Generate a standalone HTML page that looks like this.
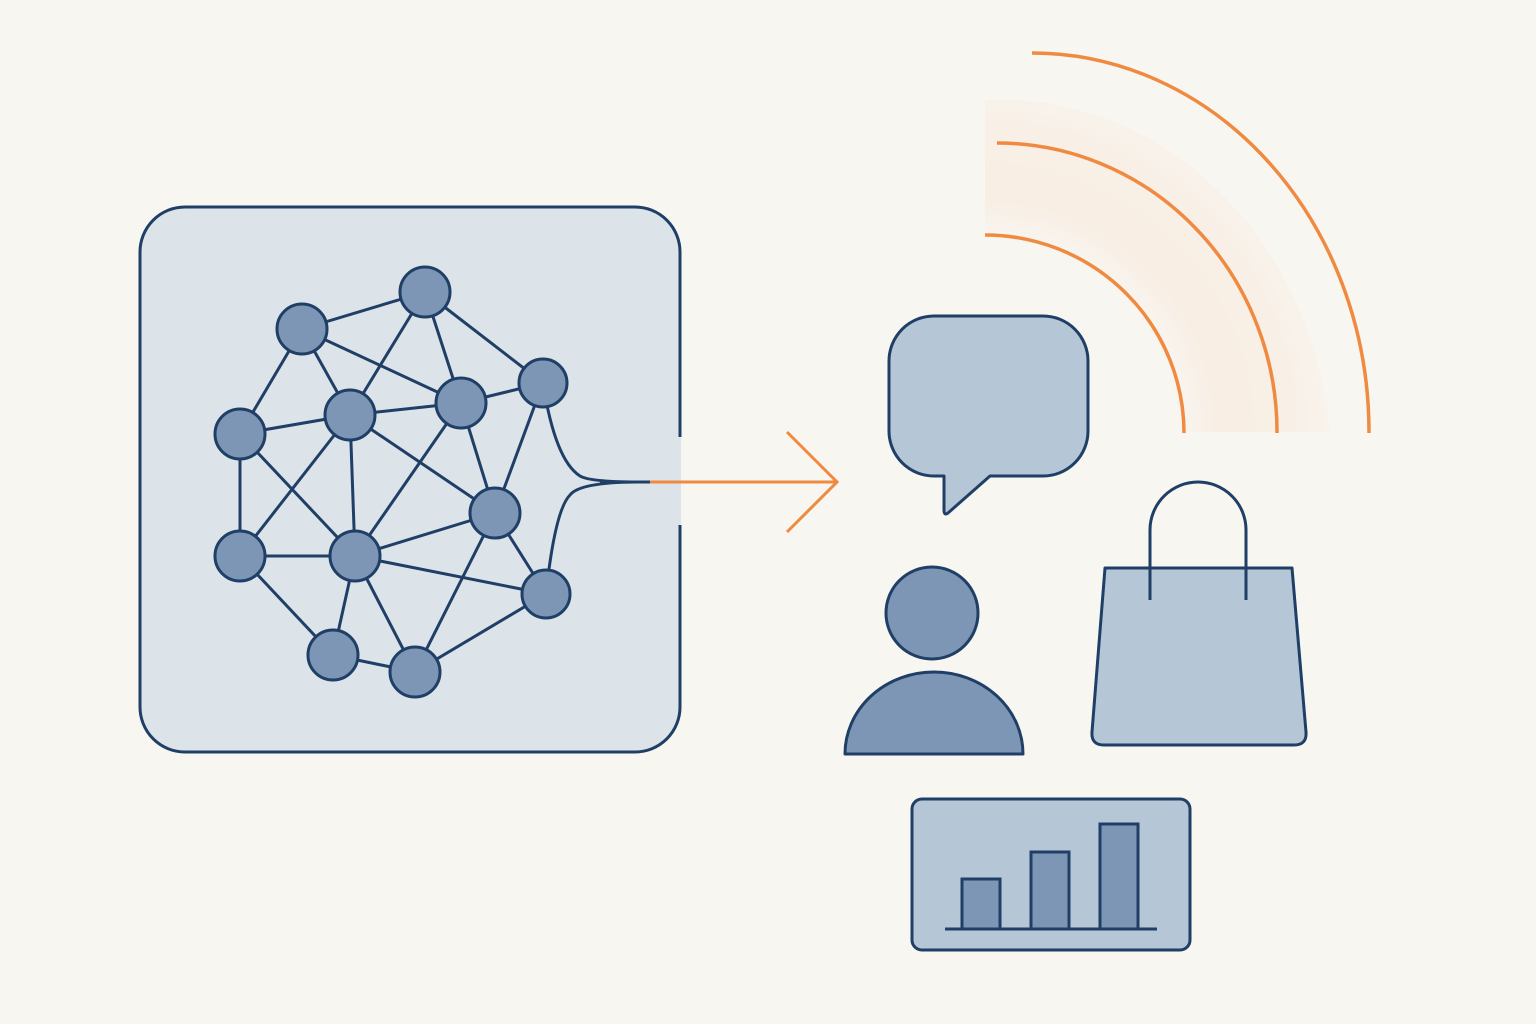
<!DOCTYPE html>
<html><head><meta charset="utf-8"><style>html,body{margin:0;padding:0;background:#f8f6f1;}svg{display:block}</style></head>
<body>
<svg width="1536" height="1024" viewBox="0 0 1536 1024" xmlns="http://www.w3.org/2000/svg">
<defs>
<radialGradient id="glow" cx="985" cy="432" r="380" gradientUnits="userSpaceOnUse">
<stop offset="0.5" stop-color="#f6b98a" stop-opacity="0"/>
<stop offset="0.62" stop-color="#f6b98a" stop-opacity="0.14"/>
<stop offset="0.8" stop-color="#f6b98a" stop-opacity="0.1"/>
<stop offset="1" stop-color="#f6b98a" stop-opacity="0"/>
</radialGradient>
</defs>
<rect width="1536" height="1024" fill="#f8f6f1"/>
<path d="M985,432 L985,100 A330,370 0 0 1 1330,432 Z" fill="url(#glow)"/>
<!-- main box -->
<path d="M680,437 L680,252 A45,45 0 0 0 635,207 L185,207 A45,45 0 0 0 140,252 L140,707 A45,45 0 0 0 185,752 L635,752 A45,45 0 0 0 680,707 L680,525" fill="#dce3e9" stroke="#1f3f66" stroke-width="3"/>
<rect x="650" y="438" width="31" height="86" fill="#dce3e9"/>
<g stroke="#1f3f66" stroke-width="3" fill="none">
<line x1="302" y1="329" x2="425" y2="292"/><line x1="302" y1="329" x2="240" y2="434"/><line x1="302" y1="329" x2="350" y2="415"/><line x1="302" y1="329" x2="461" y2="403"/>
<line x1="425" y1="292" x2="350" y2="415"/><line x1="425" y1="292" x2="461" y2="403"/><line x1="425" y1="292" x2="543" y2="383"/>
<line x1="543" y1="383" x2="495" y2="513"/><line x1="543" y1="383" x2="461" y2="403"/>
<line x1="240" y1="434" x2="350" y2="415"/><line x1="240" y1="434" x2="240" y2="556"/><line x1="240" y1="434" x2="355" y2="556"/>
<line x1="350" y1="415" x2="461" y2="403"/><line x1="350" y1="415" x2="355" y2="556"/><line x1="350" y1="415" x2="495" y2="513"/><line x1="350" y1="415" x2="240" y2="556"/>
<line x1="461" y1="403" x2="495" y2="513"/><line x1="461" y1="403" x2="355" y2="556"/>
<line x1="495" y1="513" x2="355" y2="556"/><line x1="495" y1="513" x2="546" y2="594"/><line x1="495" y1="513" x2="415" y2="672"/>
<line x1="240" y1="556" x2="355" y2="556"/><line x1="240" y1="556" x2="333" y2="655"/>
<line x1="355" y1="556" x2="333" y2="655"/><line x1="355" y1="556" x2="415" y2="672"/><line x1="355" y1="556" x2="546" y2="594"/>
<line x1="333" y1="655" x2="415" y2="672"/><line x1="415" y1="672" x2="546" y2="594"/>
<path d="M543,383 Q555,460 580,476 Q590,482 640,482"/>
<path d="M546,594 Q555,510 570,495 Q580,482 640,482"/>
</g>
<line x1="600" y1="482" x2="680" y2="482" stroke="#1f3f66" stroke-width="3"/>
<line x1="650" y1="482" x2="836" y2="482" stroke="#f08a40" stroke-width="3"/>
<polyline points="787,432 837,482 787,532" fill="none" stroke="#f08a40" stroke-width="3"/>
<g fill="#7d96b6" stroke="#1f3f66" stroke-width="3">
<circle cx="302" cy="329" r="25"/><circle cx="425" cy="292" r="25"/><circle cx="543" cy="383" r="24"/>
<circle cx="240" cy="434" r="25"/><circle cx="350" cy="415" r="25"/><circle cx="461" cy="403" r="25"/>
<circle cx="495" cy="513" r="25"/><circle cx="240" cy="556" r="25"/><circle cx="355" cy="556" r="25"/>
<circle cx="546" cy="594" r="24"/><circle cx="333" cy="655" r="25"/><circle cx="415" cy="672" r="25"/>
</g>
<!-- arcs -->
<g fill="none" stroke="#f08a40" stroke-width="3.5">
<path d="M985,235 A199,198 0 0 1 1184,433"/>
<path d="M997,143 A280,289 0 0 1 1277,433"/>
<path d="M1032,53 A337,379 0 0 1 1369,433"/>
</g>
<!-- speech bubble -->
<path d="M934,316 L1043,316 A45,45 0 0 1 1088,361 L1088,431 A45,45 0 0 1 1043,476 L990,476 L948,513 Q944,516 944,510 L944,476 L934,476 A45,45 0 0 1 889,431 L889,361 A45,45 0 0 1 934,316 Z" fill="#b5c6d7" stroke="#1f3f66" stroke-width="3" stroke-linejoin="round"/>
<!-- person -->
<circle cx="932" cy="613" r="46" fill="#7d96b6" stroke="#1f3f66" stroke-width="3"/>
<path d="M845,754 A89,82 0 0 1 1023,754 Z" fill="#7d96b6" stroke="#1f3f66" stroke-width="3" stroke-linejoin="round"/>
<!-- bag -->
<path d="M1105,568 L1292,568 L1306,732 Q1307,745 1294,745 L1104,745 Q1091,745 1092,732 Z" fill="#b5c6d7" stroke="#1f3f66" stroke-width="3" stroke-linejoin="round"/>
<path d="M1150,600 L1150,530 A48,48 0 0 1 1246,530 L1246,600" fill="none" stroke="#1f3f66" stroke-width="3"/>
<!-- chart -->
<rect x="912" y="799" width="278" height="151" rx="10" fill="#b5c6d7" stroke="#1f3f66" stroke-width="3"/>
<g fill="#7d96b6" stroke="#1f3f66" stroke-width="3">
<rect x="962" y="879" width="38" height="50"/><rect x="1031" y="852" width="38" height="77"/><rect x="1100" y="824" width="38" height="105"/>
</g>
<line x1="945" y1="929" x2="1157" y2="929" stroke="#1f3f66" stroke-width="3"/>
</svg>
</body></html>
